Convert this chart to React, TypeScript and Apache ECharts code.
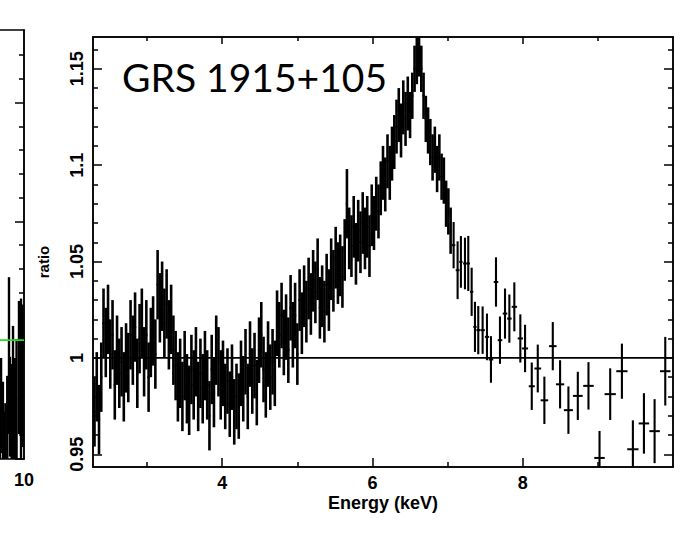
import React, { useEffect, useRef } from "react";
import * as echarts from "echarts";

// ---------- data ----------
// dense part: [energy keV, ratio, 1-sigma error]
const denseBins: number[][] = [
  [2.30, 0.972, 0.018], [2.33, 0.985, 0.018], [2.36, 0.968, 0.018], [2.39, 0.990, 0.018],
  [2.42, 1.018, 0.018], [2.45, 1.008, 0.018], [2.48, 1.020, 0.018], [2.51, 1.002, 0.018],
  [2.54, 1.012, 0.018], [2.57, 0.986, 0.018], [2.60, 1.004, 0.018], [2.63, 0.992, 0.018],
  [2.66, 0.998, 0.018], [2.69, 0.985, 0.018], [2.72, 1.000, 0.018], [2.75, 0.995, 0.018],
  [2.78, 1.012, 0.018], [2.81, 1.004, 0.018], [2.84, 1.016, 0.018], [2.87, 0.992, 0.018],
  [2.90, 1.010, 0.018], [2.93, 1.018, 0.018], [2.96, 0.998, 0.018], [2.99, 1.012, 0.018],
  [3.02, 0.990, 0.018], [3.05, 1.008, 0.018], [3.08, 1.014, 0.018], [3.11, 1.002, 0.018],
  [3.14, 1.038, 0.018], [3.17, 1.026, 0.018], [3.20, 1.032, 0.018], [3.23, 1.018, 0.018],
  [3.26, 1.028, 0.018], [3.29, 1.012, 0.018], [3.32, 1.020, 0.018], [3.35, 1.004, 0.018],
  [3.38, 0.996, 0.018], [3.41, 0.985, 0.018], [3.44, 0.992, 0.018], [3.47, 0.980, 0.018],
  [3.50, 0.996, 0.018], [3.53, 0.984, 0.018], [3.56, 0.978, 0.018], [3.59, 0.994, 0.018],
  [3.62, 0.986, 0.018], [3.65, 0.998, 0.018], [3.68, 0.980, 0.018], [3.71, 0.992, 0.018],
  [3.74, 0.984, 0.018], [3.77, 0.996, 0.018], [3.80, 0.986, 0.018], [3.83, 0.970, 0.018],
  [3.86, 0.994, 0.018], [3.89, 0.982, 0.018], [3.92, 1.004, 0.018], [3.95, 0.998, 0.018],
  [3.98, 0.986, 0.018], [4.01, 0.992, 0.017], [4.04, 0.980, 0.017], [4.07, 0.988, 0.017],
  [4.10, 0.976, 0.017], [4.13, 0.990, 0.017], [4.16, 0.972, 0.017], [4.19, 0.980, 0.017],
  [4.22, 0.975, 0.017], [4.25, 0.992, 0.017], [4.28, 0.984, 0.017], [4.31, 0.998, 0.017],
  [4.34, 0.980, 0.017], [4.37, 1.002, 0.017], [4.40, 0.988, 0.017], [4.43, 0.996, 0.017],
  [4.46, 0.982, 0.017], [4.49, 1.004, 0.017], [4.52, 1.012, 0.017], [4.55, 0.994, 0.017],
  [4.58, 0.986, 0.017], [4.61, 1.002, 0.017], [4.64, 0.990, 0.017], [4.67, 0.998, 0.017],
  [4.70, 0.992, 0.017], [4.73, 1.018, 0.017], [4.76, 1.012, 0.017], [4.79, 1.022, 0.017],
  [4.82, 1.008, 0.017], [4.85, 1.016, 0.017], [4.88, 1.004, 0.017], [4.91, 1.026, 0.017],
  [4.94, 1.012, 0.017], [4.97, 1.022, 0.017], [5.00, 1.002, 0.016], [5.03, 1.030, 0.016],
  [5.06, 1.018, 0.016], [5.09, 1.032, 0.016], [5.12, 1.024, 0.016], [5.15, 1.036, 0.016],
  [5.18, 1.028, 0.016], [5.21, 1.040, 0.016], [5.24, 1.034, 0.016], [5.27, 1.046, 0.016],
  [5.30, 1.026, 0.016], [5.33, 1.032, 0.016], [5.36, 1.024, 0.016], [5.39, 1.038, 0.016],
  [5.42, 1.030, 0.016], [5.45, 1.046, 0.016], [5.48, 1.040, 0.016], [5.51, 1.052, 0.016],
  [5.54, 1.044, 0.016], [5.57, 1.048, 0.016], [5.60, 1.042, 0.016], [5.63, 1.056, 0.016],
  [5.66, 1.080, 0.018], [5.69, 1.062, 0.016], [5.72, 1.058, 0.016], [5.75, 1.068, 0.016],
  [5.78, 1.054, 0.016], [5.81, 1.066, 0.016], [5.84, 1.060, 0.016], [5.87, 1.070, 0.016],
  [5.90, 1.062, 0.016], [5.93, 1.068, 0.016], [5.96, 1.058, 0.016], [5.99, 1.074, 0.016],
  [6.02, 1.070, 0.014], [6.05, 1.080, 0.014], [6.08, 1.076, 0.014], [6.11, 1.088, 0.014],
  [6.14, 1.096, 0.014], [6.17, 1.090, 0.014], [6.20, 1.102, 0.014], [6.23, 1.096, 0.014],
  [6.26, 1.106, 0.014], [6.29, 1.112, 0.014], [6.32, 1.120, 0.014], [6.35, 1.126, 0.014],
  [6.38, 1.118, 0.014], [6.41, 1.130, 0.014], [6.44, 1.124, 0.014], [6.47, 1.132, 0.014],
  [6.50, 1.126, 0.012], [6.53, 1.136, 0.012], [6.56, 1.150, 0.012], [6.59, 1.154, 0.012],
  [6.62, 1.158, 0.012], [6.65, 1.150, 0.012], [6.68, 1.136, 0.012], [6.71, 1.124, 0.012],
  [6.74, 1.118, 0.012], [6.77, 1.112, 0.012], [6.80, 1.104, 0.012], [6.83, 1.108, 0.012],
  [6.86, 1.098, 0.012], [6.89, 1.104, 0.012], [6.92, 1.094, 0.012], [6.95, 1.092, 0.012],
  [6.98, 1.080, 0.012], [7.01, 1.076, 0.012], [7.04, 1.066, 0.012],
];
const denseHalfWidth = 0.015;

// sparse high-energy part: [energy, ratio, error, bin half width]
const sparseBins: number[][] = [
  [7.080, 1.0585, 0.012, 0.022], [7.133, 1.0455, 0.015, 0.025], [7.177, 1.0498, 0.0134, 0.022],
  [7.231, 1.049, 0.0134, 0.025], [7.275, 1.049, 0.0143, 0.022], [7.320, 1.0343, 0.0125, 0.022],
  [7.364, 1.0161, 0.013, 0.022], [7.408, 1.0144, 0.0125, 0.025], [7.466, 1.0144, 0.0123, 0.03],
  [7.524, 1.0109, 0.0121, 0.028], [7.577, 0.9992, 0.0121, 0.03], [7.644, 1.0394, 0.0128, 0.03],
  [7.697, 1.0092, 0.0123, 0.03], [7.764, 1.023, 0.013, 0.03], [7.822, 1.0204, 0.0125, 0.03],
  [7.888, 1.0265, 0.0127, 0.035], [7.968, 1.0101, 0.0125, 0.035], [8.031, 1.0049, 0.0123, 0.04],
  [8.120, 0.9853, 0.0123, 0.04], [8.200, 0.9945, 0.0124, 0.045], [8.288, 0.978, 0.0123, 0.05],
  [8.400, 1.0061, 0.0125, 0.05], [8.497, 0.9863, 0.0125, 0.055], [8.608, 0.9729, 0.0123, 0.06],
  [8.733, 0.9803, 0.0125, 0.065], [8.875, 0.9855, 0.0123, 0.07], [9.022, 0.9481, 0.014, 0.07],
  [9.164, 0.9812, 0.0134, 0.075], [9.320, 0.9931, 0.0143, 0.075], [9.466, 0.9526, 0.015, 0.075],
  [9.613, 0.966, 0.0157, 0.07], [9.755, 0.962, 0.0166, 0.07], [9.897, 0.9931, 0.0178, 0.07],
];

// partially visible neighbouring panel (left edge of the picture)
const leftPanelBins: number[][] = [
  [9.61, 0.93, 0.05], [9.63, 0.945, 0.04], [9.66, 0.925, 0.04], [9.68, 0.91, 0.03],
  [9.70, 0.917, 0.03], [9.73, 0.93, 0.04], [9.758, 0.987, 0.066], [9.774, 0.944, 0.042],
  [9.80, 0.93, 0.05], [9.823, 0.952, 0.06], [9.855, 0.935, 0.05], [9.88, 0.95, 0.05],
  [9.919, 0.977, 0.056], [9.952, 0.965, 0.07], [9.975, 0.97, 0.06],
];
const leftHalfWidth = 0.012;

const xMajor = [4, 6, 8];
const xMinor = [3, 5, 7, 9];
const yMajor = [0.95, 1, 1.05, 1.1, 1.15];
const yMinor = [0.96, 0.97, 0.98, 0.99, 1.01, 1.02, 1.03, 1.04, 1.06, 1.07, 1.08, 1.09, 1.11, 1.12, 1.13, 1.14, 1.16];
const leftYMajor = [0.9, 1.0, 1.1, 1.2];
const leftYMinor = [0.92, 0.94, 0.96, 0.98, 1.02, 1.04, 1.06, 1.08, 1.12, 1.14, 1.16, 1.18, 1.22, 1.24];

const X_MIN = 2.28, X_MAX = 10.0, Y_MIN = 0.9434, Y_MAX = 1.1665;
const LX_MIN = 8, LX_MAX = 10, LY_MIN = 0.9, LY_MAX = 1.261;

const TITLE = "GRS 1915+105";

function errRender(xmin: number, xmax: number, ymin: number, ymax: number, hwDefault: number, lw: number) {
  return (params: any, api: any) => {
    const e = api.value(0), v = api.value(1), err = api.value(2);
    const hwv = api.value(3);
    const hw = isNaN(hwv) || hwv === undefined ? hwDefault : hwv;
    const lo = Math.max(v - err, ymin), hi = Math.min(v + err, ymax);
    const p1 = api.coord([e, lo]), p2 = api.coord([e, hi]);
    const style = { stroke: "#000", lineWidth: lw };
    const children: any[] = [
      { type: "line", shape: { x1: p1[0], y1: p1[1], x2: p2[0], y2: p2[1] }, style },
    ];
    if (v >= ymin && v <= ymax) {
      const l = api.coord([Math.max(e - hw, xmin), v]);
      const r = api.coord([Math.min(e + hw, xmax), v]);
      children.push({ type: "line", shape: { x1: l[0], y1: l[1], x2: r[0], y2: r[1] }, style: { stroke: "#000", lineWidth: 2 } });
    }
    return { type: "group", children };
  };
}

const black = "#000";
const tickFont = { color: black, fontSize: 18, fontWeight: "bold" as const, fontFamily: "Liberation Sans, Arial, sans-serif" };

function mkAxis(extra: any) {
  return {
    type: "value",
    splitLine: { show: false },
    axisLine: { show: true, onZero: false, lineStyle: { color: black, width: 1.5 } },
    axisLabel: { show: false },
    offset: 0,
    ...extra,
  };
}

export default function App() {
  const ref = useRef<HTMLDivElement>(null);
  useEffect(() => {
    document.body.style.margin = "0";
    if (!ref.current) return;
    const chart = echarts.init(ref.current, undefined, { renderer: "svg" });
    const denseData = denseBins.map((d) => [d[0], d[1], d[2], denseHalfWidth]);
    const leftData = leftPanelBins.map((d) => [d[0], d[1], d[2], leftHalfWidth]);
    chart.setOption({
      animation: false,
      backgroundColor: "#fff",
      grid: [
        { left: 93, right: 11, top: 37, bottom: 77, outerBoundsMode: "none", containLabel: false },
        { left: -100, width: 124, top: 30, height: 429, outerBoundsMode: "none", containLabel: false },
      ],
      xAxis: [
        mkAxis({ gridIndex: 0, min: X_MIN, max: X_MAX, position: "bottom",
          axisTick: { show: true, inside: true, length: 9, customValues: xMajor, lineStyle: { color: black, width: 1.5 } },
          axisLabel: { show: true, customValues: xMajor, margin: 7, ...tickFont } }),
        mkAxis({ gridIndex: 0, min: X_MIN, max: X_MAX, position: "bottom",
          axisTick: { show: true, inside: true, length: 5, customValues: xMinor, lineStyle: { color: black, width: 1.5 } } }),
        mkAxis({ gridIndex: 0, min: X_MIN, max: X_MAX, position: "top",
          axisTick: { show: true, inside: true, length: 7, customValues: xMajor, lineStyle: { color: black, width: 1.5 } } }),
        mkAxis({ gridIndex: 0, min: X_MIN, max: X_MAX, position: "top",
          axisTick: { show: true, inside: true, length: 4, customValues: xMinor, lineStyle: { color: black, width: 1.5 } } }),
        mkAxis({ gridIndex: 1, min: LX_MIN, max: LX_MAX, position: "bottom",
          axisTick: { show: false },
          axisLabel: { show: true, customValues: [10], margin: 12, ...tickFont } }),
        mkAxis({ gridIndex: 1, min: LX_MIN, max: LX_MAX, position: "top", axisTick: { show: false } }),
      ],
      yAxis: [
        mkAxis({ gridIndex: 0, min: Y_MIN, max: Y_MAX, position: "left",
          axisTick: { show: true, inside: true, length: 9, customValues: yMajor, lineStyle: { color: black, width: 1.5 } },
          axisLabel: { show: true, customValues: yMajor, rotate: 90, margin: 7, ...tickFont } }),
        mkAxis({ gridIndex: 0, min: Y_MIN, max: Y_MAX, position: "left",
          axisTick: { show: true, inside: true, length: 5, customValues: yMinor, lineStyle: { color: black, width: 1.5 } } }),
        mkAxis({ gridIndex: 0, min: Y_MIN, max: Y_MAX, position: "right",
          axisTick: { show: true, inside: true, length: 9, customValues: yMajor, lineStyle: { color: black, width: 1.5 } } }),
        mkAxis({ gridIndex: 0, min: Y_MIN, max: Y_MAX, position: "right",
          axisTick: { show: true, inside: true, length: 5, customValues: yMinor, lineStyle: { color: black, width: 1.5 } } }),
        mkAxis({ gridIndex: 1, min: LY_MIN, max: LY_MAX, position: "right",
          axisTick: { show: true, inside: true, length: 9, customValues: leftYMajor, lineStyle: { color: black, width: 1.5 } } }),
        mkAxis({ gridIndex: 1, min: LY_MIN, max: LY_MAX, position: "right",
          axisTick: { show: true, inside: true, length: 5, customValues: leftYMinor, lineStyle: { color: black, width: 1.5 } } }),
      ],
      series: [
        {
          type: "line", xAxisIndex: 0, yAxisIndex: 0, symbol: "none", silent: true,
          data: [[X_MIN, 1], [X_MAX, 1]], lineStyle: { color: black, width: 1.6 }, z: 3,
        },
        {
          type: "custom", xAxisIndex: 0, yAxisIndex: 0, clip: true,
          renderItem: errRender(X_MIN, X_MAX, Y_MIN, Y_MAX, denseHalfWidth, 2.6),
          encode: { x: 0, y: 1 }, data: denseData, z: 2,
        },
        {
          type: "custom", xAxisIndex: 0, yAxisIndex: 0, clip: true,
          renderItem: errRender(X_MIN, X_MAX, Y_MIN, Y_MAX, denseHalfWidth, 2.1),
          encode: { x: 0, y: 1 }, data: sparseBins, z: 2,
        },
        {
          type: "line", xAxisIndex: 4, yAxisIndex: 4, symbol: "none", silent: true,
          data: [[LX_MIN, 1], [LX_MAX, 1]], lineStyle: { color: "#22dd22", width: 1.6 }, z: 3,
        },
        {
          type: "custom", xAxisIndex: 4, yAxisIndex: 4, clip: true,
          renderItem: errRender(LX_MIN, LX_MAX, LY_MIN, LY_MAX, leftHalfWidth, 2.4),
          encode: { x: 0, y: 1 }, data: leftData, z: 2,
        },
      ],
      graphic: [
        {
          type: "text", x: 122, y: 77,
          style: { text: TITLE, fill: black, font: "normal 39px Lato, 'Open Sans', sans-serif", align: "left", verticalAlign: "middle" },
        },
        {
          type: "text", x: 43, y: 262, rotation: Math.PI / 2,
          style: { text: "ratio", fill: black, font: "bold 15px 'Liberation Sans', Arial, sans-serif", align: "center", verticalAlign: "middle" },
        },
        {
          type: "text", x: 383, y: 503,
          style: { text: "Energy (keV)", fill: black, font: "bold 18px 'Liberation Sans', Arial, sans-serif", align: "center", verticalAlign: "middle" },
        },
      ],
    });
    return () => chart.dispose();
  }, []);
  return <div ref={ref} style={{ width: 684, height: 544 }} />;
}
